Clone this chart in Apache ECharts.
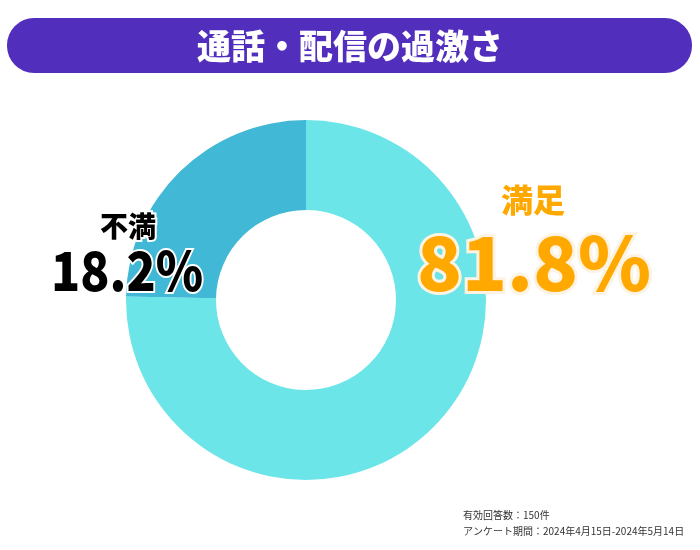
<!doctype html>
<html>
<head>
<meta charset="UTF-8">
<title>通話・配信の過激さ</title>
<script src="https://cdn.jsdelivr.net/npm/echarts@6/dist/echarts.min.js"></script>
<style>
  html, body { margin: 0; padding: 0; background: #fff; }
  #chart { width: 700px; height: 550px; }
</style>
</head>
<body>
<div id="chart"></div>
<script>
// data
var titleText = '通話・配信の過激さ';
var categories = ['満足', '不満'];
var sliceShares = [75.3, 24.7];       // drawn angles of the ring
var pctLabels = ['81.8%', '18.2%'];   // printed percentages
var sliceColors = ['#6ce5e8', '#41b8d5'];
var noteLines = ['有効回答数：150件', 'アンケート期間：2024年4月15日-2024年5月14日'];

var font = '"Noto Sans CJK JP", "Noto Sans", sans-serif';
var chart = echarts.init(document.getElementById('chart'));

chart.setOption({
  animation: false,
  backgroundColor: '#fff',
  series: [{
    type: 'pie',
    center: [306, 300],
    radius: [90, 180],
    startAngle: 90,
    clockwise: true,
    silent: true,
    z: 1,
    label: { show: false },
    labelLine: { show: false },
    itemStyle: { borderWidth: 0 },
    data: categories.map(function (c, i) {
      return { name: c, value: sliceShares[i], itemStyle: { color: sliceColors[i] } };
    })
  }],
  graphic: {
    elements: [
      {
        type: 'rect', z: 100,
        shape: { x: 7, y: 18, width: 685, height: 55, r: 27 },
        style: { fill: '#522ebd' }
      },
      {
        type: 'text', z: 101,
        x: 350, y: 46,
        style: {
          text: titleText, fill: '#fff', font: '900 34px ' + font,
          textAlign: 'center', textVerticalAlign: 'middle'
        }
      },
      // 満足
      {
        type: 'text', z: 100,
        x: 533, y: 200,
        style: {
          text: categories[0], fill: '#ffa800', font: '900 32px ' + font,
          textAlign: 'center', textVerticalAlign: 'middle'
        }
      },
      {
        type: 'text', z: 100,
        x: 534, y: 263,
        style: {
          text: pctLabels[0], fill: '#ffa800', font: '900 74px ' + font,
          textAlign: 'center', textVerticalAlign: 'middle',
          stroke: '#fdf3e3', lineWidth: 6, strokeFirst: true
        }
      },
      // 不満
      {
        type: 'text', z: 100,
        x: 128, y: 226,
        style: {
          text: categories[1], fill: '#000', font: '900 28px ' + font,
          textAlign: 'center', textVerticalAlign: 'middle',
          stroke: '#fff', lineWidth: 4, strokeFirst: true
        }
      },
      {
        type: 'text', z: 100,
        x: 127, y: 270, scaleX: 0.89,
        style: {
          text: pctLabels[1], fill: '#000', font: '900 54px ' + font,
          textAlign: 'center', textVerticalAlign: 'middle',
          stroke: '#fff', lineWidth: 4, strokeFirst: true
        }
      },
      {
        type: 'text', z: 100,
        x: 463, y: 515,
        style: {
          text: noteLines[0], fill: '#333', font: '10px ' + font,
          textAlign: 'left', textVerticalAlign: 'middle'
        }
      },
      {
        type: 'text', z: 100,
        x: 463, y: 531,
        style: {
          text: noteLines[1], fill: '#333', font: '10px ' + font,
          textAlign: 'left', textVerticalAlign: 'middle'
        }
      }
    ]
  }
});
</script>
</body>
</html>
